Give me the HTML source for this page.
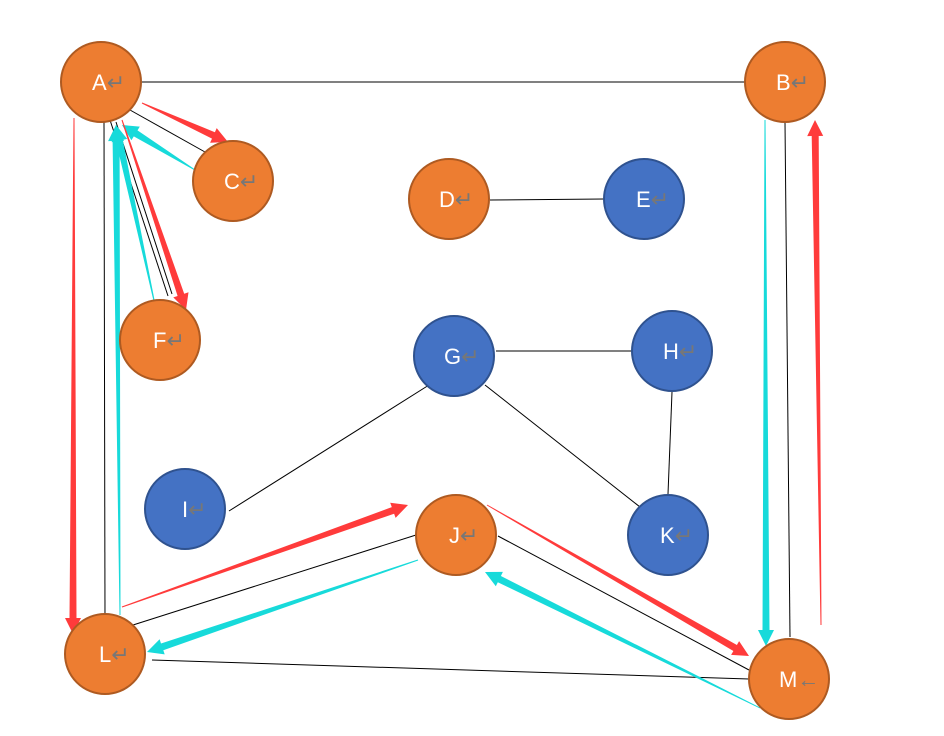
<!DOCTYPE html>
<html><head><meta charset="utf-8"><style>
html,body{margin:0;padding:0;background:#fff;width:944px;height:736px;overflow:hidden}
svg text{font-family:"Liberation Sans","DejaVu Sans",sans-serif;font-size:22px;fill:#fff}
</style></head><body>
<svg id="s" width="944" height="736" xmlns="http://www.w3.org/2000/svg">
<g stroke="#000" stroke-width="1">
<line x1="142" y1="82" x2="745" y2="82"/>
<line x1="130" y1="110" x2="205" y2="152"/>
<line x1="110" y1="120" x2="168" y2="296"/>
<line x1="116" y1="122" x2="172" y2="294"/>
<line x1="104" y1="120" x2="105" y2="622"/>
<line x1="785" y1="122" x2="790" y2="637"/>
<line x1="490" y1="200" x2="604" y2="199"/>
<line x1="496" y1="351" x2="631" y2="351"/>
<line x1="672" y1="392" x2="668" y2="494"/>
<line x1="429" y1="385" x2="229" y2="511"/>
<line x1="485" y1="385" x2="640" y2="507"/>
<line x1="133" y1="625" x2="416" y2="535"/>
<line x1="498" y1="536" x2="749" y2="670"/>
<line x1="152" y1="660" x2="749" y2="679"/>
</g>
<g id="arr"></g>
<g stroke-width="2">
<circle cx="101" cy="82" r="40" fill="#ed7d31" stroke="#ae5a21"/>
<circle cx="785" cy="82" r="40" fill="#ed7d31" stroke="#ae5a21"/>
<circle cx="233" cy="181" r="40" fill="#ed7d31" stroke="#ae5a21"/>
<circle cx="449" cy="199" r="40" fill="#ed7d31" stroke="#ae5a21"/>
<circle cx="644" cy="199" r="40" fill="#4472c4" stroke="#2f528f"/>
<circle cx="160" cy="340" r="40" fill="#ed7d31" stroke="#ae5a21"/>
<circle cx="454" cy="356" r="40" fill="#4472c4" stroke="#2f528f"/>
<circle cx="672" cy="351" r="40" fill="#4472c4" stroke="#2f528f"/>
<circle cx="185" cy="509" r="40" fill="#4472c4" stroke="#2f528f"/>
<circle cx="456" cy="535" r="40" fill="#ed7d31" stroke="#ae5a21"/>
<circle cx="668" cy="535" r="40" fill="#4472c4" stroke="#2f528f"/>
<circle cx="105" cy="654" r="40" fill="#ed7d31" stroke="#ae5a21"/>
<circle cx="789" cy="679" r="40" fill="#ed7d31" stroke="#ae5a21"/>
</g>
<g>
<text x="92" y="90">A<tspan fill="#777">↵</tspan></text>
<text x="776" y="90">B<tspan fill="#777">↵</tspan></text>
<text x="224" y="189">C<tspan fill="#777">↵</tspan></text>
<text x="439" y="207">D<tspan fill="#777">↵</tspan></text>
<text x="636" y="207">E<tspan fill="#777">↵</tspan></text>
<text x="153" y="348">F<tspan fill="#777">↵</tspan></text>
<text x="444" y="364">G<tspan fill="#777">↵</tspan></text>
<text x="663" y="359">H<tspan fill="#777">↵</tspan></text>
<text x="182" y="517">I<tspan fill="#777">↵</tspan></text>
<text x="449" y="543">J<tspan fill="#777">↵</tspan></text>
<text x="660" y="543">K<tspan fill="#777">↵</tspan></text>
<text x="99" y="662">L<tspan fill="#777">↵</tspan></text>
<text x="779" y="687">M<tspan fill="#777">←</tspan></text>
</g>
</svg>
<script>
var R="#ff3b3b",C="#17dada";
var A=[[142,103,228,142,R],[195,170,122,125,C],[122,120,186,310,R],[155,305,116,125,C],[74,118,73,634,R],[120,615,116,125,C],[122,607,408,505,R],[418,560,147,652,C],[487,505,749,656,R],[760,708,485,572,C],[765,120,766,646,C],[821,625,815,120,R]];
var g=document.getElementById("arr"),h="";
A.forEach(function(a){var dx=a[2]-a[0],dy=a[3]-a[1],L=Math.hypot(dx,dy),ux=dx/L,uy=dy/L,nx=-uy,ny=ux;
var hl=16,bx=a[2]-ux*hl,by=a[3]-uy*hl,w0=0.5,w1=3.5,hw=8;
var p=[[a[0]+nx*w0,a[1]+ny*w0],[bx+nx*w1,by+ny*w1],[bx+nx*hw,by+ny*hw],[a[2],a[3]],[bx-nx*hw,by-ny*hw],[bx-nx*w1,by-ny*w1],[a[0]-nx*w0,a[1]-ny*w0]];
h+='<polygon fill="'+a[4]+'" points="'+p.map(function(q){return q[0].toFixed(1)+","+q[1].toFixed(1)}).join(" ")+'"/>';});
g.innerHTML=h;
</script>
</body></html>
